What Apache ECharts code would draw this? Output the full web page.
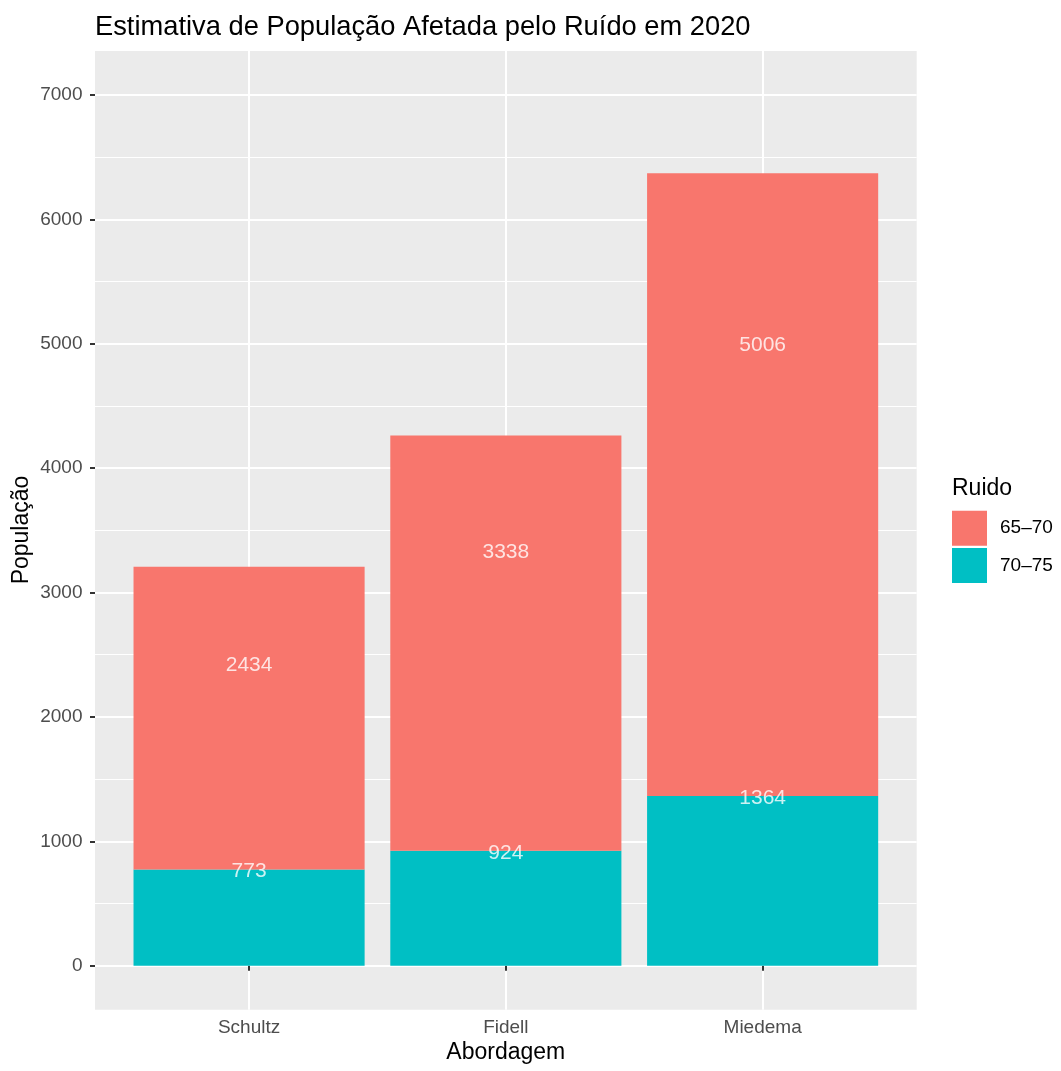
<!DOCTYPE html>
<html>
<head>
<meta charset="utf-8">
<script src="https://cdn.jsdelivr.net/npm/echarts@6/dist/echarts.min.js"></script>
<style>html,body{margin:0;padding:0;background:#fff}#c{width:1061px;height:1071px}</style>
</head>
<body>
<div id="c"></div>
<script>
const categories = ['Schultz', 'Fidell', 'Miedema'];
const seriesNames = ['65–70', '70–75'];
const values6570 = [2434, 3338, 5006];
const values7075 = [773, 924, 1364];
const yTicks = [0, 1000, 2000, 3000, 4000, 5000, 6000, 7000];
const yMinorTicks = [500, 1500, 2500, 3500, 4500, 5500, 6500];
const colors = { '65–70': '#F8766D', '70–75': '#00BFC4' };

const FONT = 'Liberation Sans';
const chart = echarts.init(document.getElementById('c'), null, { renderer: 'canvas' });

const xIdx = categories.map((c, i) => i + 1);
const labelPts = values7075.map((v, i) => [categories[i], v])
  .concat(values6570.map((v, i) => [categories[i], v]));

const yMin = -354, yMax = 7353;
// panel geometry (ggplot discrete scale: 0.6 units expansion on each side)
const panelLeft = 95, panelRight = 144.3, panelTop = 51, panelBottom = 61.3;
const panelWidth = 1061 - panelLeft - panelRight;
const unit = panelWidth / 3.2;

chart.setOption({
  animation: false,
  textStyle: { fontFamily: FONT },
  grid: [
    {
      left: panelLeft, right: panelRight, top: panelTop, bottom: panelBottom,
      show: true, backgroundColor: '#EBEBEB', borderWidth: 0,
      containLabel: false, outerBoundsMode: 'none'
    },
    {
      left: panelLeft + 0.1 * unit, right: panelRight + 0.1 * unit, top: panelTop, bottom: panelBottom,
      show: false, containLabel: false, outerBoundsMode: 'none'
    }
  ],
  legend: {
    orient: 'vertical', left: 952, top: 510.7,
    itemWidth: 35, itemHeight: 35, itemGap: 2.3, padding: 0,
    icon: 'rect',
    data: seriesNames,
    selectedMode: false,
    textStyle: { fontFamily: FONT, fontSize: 19, color: '#000', padding: [0, 0, 0, 8] }
  },
  xAxis: [
    {
      gridIndex: 0, type: 'value', min: 0.4, max: 3.6,
      axisLine: { show: false },
      axisTick: { show: true, customValues: xIdx, length: 5, lineStyle: { color: '#333', width: 2 } },
      axisLabel: {
        customValues: xIdx, margin: 9, fontSize: 19, color: '#4D4D4D', fontFamily: FONT,
        formatter: v => categories[Math.round(v) - 1] || ''
      },
      splitLine: { show: true, lineStyle: { color: '#fff', width: 2 } }
    },
    {
      gridIndex: 1, type: 'category', data: categories, show: false
    }
  ],
  yAxis: [
    {
      gridIndex: 0, type: 'value', min: yMin, max: yMax,
      axisLine: { show: false },
      axisTick: { show: true, customValues: yTicks, length: 5, lineStyle: { color: '#333', width: 2 } },
      axisLabel: { customValues: yTicks, margin: 12.5, fontSize: 19, color: '#4D4D4D', fontFamily: FONT, formatter: v => String(v) },
      splitLine: { show: true, lineStyle: { color: '#fff', width: 2 } }
    },
    {
      gridIndex: 0, type: 'value', min: yMin, max: yMax, position: 'left',
      axisLine: { show: false },
      axisTick: { show: false, customValues: yMinorTicks },
      axisLabel: { show: false, customValues: yMinorTicks },
      splitLine: { show: true, lineStyle: { color: '#fff', width: 1 } }
    },
    {
      gridIndex: 1, type: 'value', min: yMin, max: yMax, show: false, splitLine: { show: false }
    }
  ],
  series: [
    {
      name: '70–75', type: 'bar', stack: 'total', data: values7075,
      xAxisIndex: 1, yAxisIndex: 2,
      barWidth: '90%', itemStyle: { color: colors['70–75'] }, z: 2
    },
    {
      name: '65–70', type: 'bar', stack: 'total', data: values6570,
      xAxisIndex: 1, yAxisIndex: 2,
      barWidth: '90%', itemStyle: { color: colors['65–70'] }, z: 2
    },
    {
      name: 'labels', type: 'scatter', data: labelPts, symbolSize: 0, z: 5, silent: true,
      xAxisIndex: 1, yAxisIndex: 2,
      label: {
        show: true, position: 'inside', color: '#fff', fontSize: 21, fontFamily: FONT,
        offset: [0, 2],
        formatter: p => String(p.value[1])
      }
    }
  ],
  graphic: [
    { type: 'text', left: 95, top: 14, style: { text: 'Estimativa de População Afetada pelo Ruído em 2020', fontSize: 27.3, fontFamily: FONT, fill: '#000' } },
    { type: 'text', x: 505.8, y: 1053, style: { text: 'Abordagem', fontSize: 23, fontFamily: FONT, fill: '#000', align: 'center', verticalAlign: 'middle' } },
    { type: 'text', x: 22, y: 530, rotation: Math.PI / 2, style: { text: 'População', fontSize: 23, fontFamily: FONT, fill: '#000', align: 'center', verticalAlign: 'middle' } },
    { type: 'text', x: 952, y: 489, style: { text: 'Ruido', fontSize: 23, fontFamily: FONT, fill: '#000', align: 'left', verticalAlign: 'middle' } }
  ]
});
</script>
</body>
</html>
